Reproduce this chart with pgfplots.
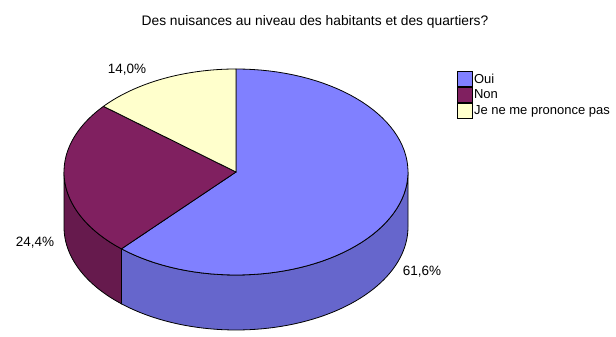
\documentclass[border=0pt]{standalone}
\usepackage{pgfplots}
\pgfplotsset{compat=1.18}
\usepackage{fontspec}
\setmainfont{Liberation Sans}
\definecolor{ouiTop}{RGB}{128,128,255}
\definecolor{ouiSide}{RGB}{102,102,204}
\definecolor{nonTop}{RGB}{128,32,96}
\definecolor{nonSide}{RGB}{102,26,77}
\definecolor{jeTop}{RGB}{255,255,204}
% data (percent)
\def\vOui{61.6}
\def\vNon{24.4}
\def\vJe{14.0}
% geometry (pixels)
\def\cx{236}\def\cy{165}\def\rx{172}\def\ry{103}\def\dep{55}
\newcommand\wall[3]{%
  \addplot[fill=#3, draw=black, line width=0.8pt, forget plot,
    samples at={0,1,...,60,100,101,...,160}, variable=\t]
  ({\cx+\rx*cos((\t<61) ? (#1+(#2-#1)*\t/60) : (#2-(#2-#1)*(\t-100)/60))},
   {\cy+\ry*sin((\t<61) ? (#1+(#2-#1)*\t/60) : (#2-(#2-#1)*(\t-100)/60)) - ((\t<61) ? 0 : \dep)}) -- cycle;}
\newcommand\slice[3]{%
  \addplot[fill=#3, draw=black, line width=0.8pt,
    samples at={0,1,...,80,100}, variable=\t]
  ({\cx+((\t<81) ? (\rx*cos(#1+(#2-#1)*\t/80)) : 0)},
   {\cy+((\t<81) ? (\ry*sin(#1+(#2-#1)*\t/80)) : 0)}) -- cycle;}
\begin{document}
\begin{tikzpicture}
\useasboundingbox (0,0) rectangle (616pt,337pt);
\pgfmathsetmacro\aOui{90-3.6*\vOui}
\pgfmathsetmacro\aNon{\aOui-3.6*\vNon}
\pgfmathsetmacro\aJe{\aNon-3.6*\vJe}
\begin{axis}[at={(0,0)}, anchor=south west, scale only axis,
  width=616pt, height=337pt, xmin=0, xmax=616, ymin=0, ymax=337,
  hide axis, clip=false,
  font=\fontsize{13.5}{15}\selectfont,
  legend image code/.code={\draw[#1, line width=0.8pt] (0pt,-7.5pt) rectangle (15pt,7.5pt);},
  legend cell align=left,
  legend style={at={(axis cs:457,266)}, anchor=north west, draw=none, fill=none,
    inner sep=0pt, row sep=0pt, font=\fontsize{13}{15}\selectfont,
    nodes={inner sep=1pt}},
]
\wall{\aOui}{0}{ouiSide}
\wall{-180}{\aOui}{nonSide}
\slice{\aOui}{90}{ouiTop}
\addlegendentry{Oui}
\slice{\aNon}{\aOui}{nonTop}
\addlegendentry{Non}
\slice{\aJe}{\aNon}{jeTop}
\addlegendentry{Je ne me prononce pas}
\node[font=\fontsize{13.8}{16}\selectfont] at (axis cs:315,315) {Des nuisances au niveau des habitants et des quartiers?};
\node at (axis cs:422,65) {61,6\%};
\node at (axis cs:35,94) {24,4\%};
\node at (axis cs:127,267) {14,0\%};
\end{axis}
\end{tikzpicture}
\end{document}
